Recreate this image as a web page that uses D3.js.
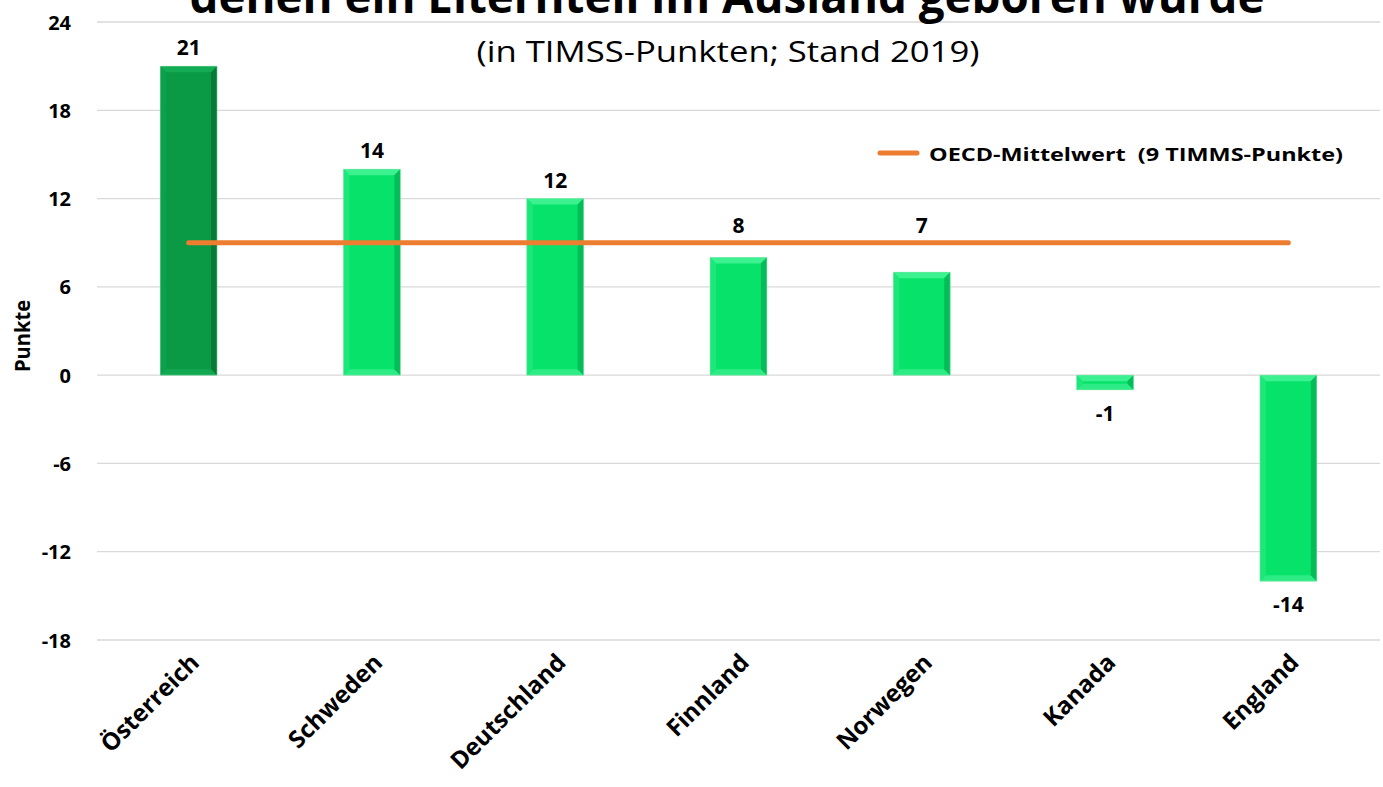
<!DOCTYPE html>
<html>
<head>
<meta charset="utf-8">
<script src="https://cdn.jsdelivr.net/npm/d3@7"></script>
<style>
  body { margin:0; background:#fff; }
  text { font-family: "Open Sans", sans-serif; }
</style>
</head>
<body>
<div class="canvas"></div>
<script>
// data
const countries = ['Österreich', 'Schweden', 'Deutschland', 'Finnland', 'Norwegen', 'Kanada', 'England'];
const points = [21, 14, 12, 8, 7, -1, -14];
const oecdMean = 9;
const yTicks = [-18, -12, -6, 0, 6, 12, 18, 24];

const dims = { width:1383, height:787 };
const plot = { left:97, right:1380, top:22, bottom:640 };

const svg = d3.select('.canvas').append('svg')
  .attr('width', dims.width)
  .attr('height', dims.height);

const x = d3.scaleBand()
  .domain(countries)
  .range([plot.left, plot.right])
  .paddingInner(0.69)
  .paddingOuter(0.345);

const y = d3.scaleLinear()
  .domain([-18, 24])
  .range([plot.bottom, plot.top]);

// gridlines
svg.append('g').selectAll('line')
  .data(yTicks).enter().append('line')
  .attr('x1', plot.left).attr('x2', plot.right)
  .attr('y1', d => y(d)).attr('y2', d => y(d))
  .attr('stroke', '#d9d9d9').attr('stroke-width', 1.3);

// y axis labels (plain hyphen for negatives, like the original)
const yAxis = d3.axisLeft(y).tickValues(yTicks).tickSize(0).tickPadding(0)
  .tickFormat(d => String(d));
const yg = svg.append('g').attr('transform', 'translate(71,0)').call(yAxis);
yg.select('.domain').remove();
yg.selectAll('text')
  .attr('font-family', '"Open Sans", sans-serif')
  .attr('font-size', 20).attr('font-weight', 700).attr('fill', '#000')
  .attr('dy', '0.35em');

svg.append('text')
  .attr('transform', 'translate(30,336) rotate(-90)')
  .attr('text-anchor', 'middle')
  .attr('font-size', 22).attr('font-weight', 700)
  .attr('textLength', 72).attr('lengthAdjust', 'spacingAndGlyphs')
  .text('Punkte');

// title (cut at top, as in the original)
svg.append('text')
  .attr('x', 727).attr('y', 13)
  .attr('text-anchor', 'middle')
  .attr('font-size', 46).attr('font-weight', 700)
  .attr('textLength', 1075).attr('lengthAdjust', 'spacingAndGlyphs')
  .text('denen ein Elternteil im Ausland geboren wurde');

svg.append('text')
  .attr('x', 728).attr('y', 62)
  .attr('text-anchor', 'middle')
  .attr('font-size', 29)
  .attr('textLength', 503).attr('lengthAdjust', 'spacingAndGlyphs')
  .text('(in TIMSS-Punkten; Stand 2019)');

// bars with bevel
const bw = x.bandwidth();
const bev = 6;
const barColors = (i) => i === 0
  ? { main:'#0a9a46', top:'#14ab55', left:'#0da04b', right:'#067a36', bottom:'#12a852' }
  : { main:'#07e26b', top:'#3cf18f', left:'#1ae878', right:'#04bd58', bottom:'#2eec85' };

const bars = svg.append('g').selectAll('g')
  .data(points).enter().append('g');

bars.each(function(d, i) {
  const g = d3.select(this);
  const x0 = x(countries[i]), x1 = x0 + bw;
  const y0 = Math.min(y(d), y(0)), y1 = Math.max(y(d), y(0));
  const c = barColors(i);
  const b = Math.min(bev, (y1 - y0) / 2);
  g.append('rect').attr('x', x0).attr('y', y0).attr('width', bw).attr('height', y1 - y0).attr('fill', c.main);
  const poly = (pts, fill) => g.append('polygon').attr('points', pts.map(p => p.join(',')).join(' ')).attr('fill', fill);
  poly([[x0,y0],[x1,y0],[x1-b,y0+b],[x0+b,y0+b]], c.top);
  poly([[x0,y1],[x1,y1],[x1-b,y1-b],[x0+b,y1-b]], c.bottom);
  poly([[x0,y0],[x0+b,y0+b],[x0+b,y1-b],[x0,y1]], c.left);
  poly([[x1,y0],[x1-b,y0+b],[x1-b,y1-b],[x1,y1]], c.right);
  g.append('rect').attr('x', x0).attr('y', y0).attr('width', bw).attr('height', y1 - y0)
    .attr('fill', 'none').attr('stroke', '#9be8bd').attr('stroke-width', 0.8).attr('stroke-opacity', 0.6);
});

// value labels; labels of bars below the mean line sit above the line
const labelY = d => {
  if (d < 0) return y(d) + 31;
  if (d < oecdMean) return y(oecdMean) - 10;
  return y(d) - 11;
};
svg.append('g').selectAll('text')
  .data(points).enter().append('text')
  .attr('x', (d, i) => x(countries[i]) + bw / 2)
  .attr('y', labelY)
  .attr('text-anchor', 'middle')
  .attr('font-size', 21).attr('font-weight', 700)
  .text(d => d);

// OECD mean line
svg.append('line')
  .attr('x1', x(countries[0]) + bw / 2)
  .attr('x2', x(countries[countries.length - 1]) + bw / 2)
  .attr('y1', y(oecdMean)).attr('y2', y(oecdMean))
  .attr('stroke', '#ed7d31').attr('stroke-width', 5).attr('stroke-linecap', 'round');

// legend
svg.append('line')
  .attr('x1', 880).attr('x2', 917).attr('y1', 153).attr('y2', 153)
  .attr('stroke', '#ed7d31').attr('stroke-width', 5).attr('stroke-linecap', 'round');
svg.append('text')
  .attr('x', 929).attr('y', 161)
  .attr('font-size', 18).attr('font-weight', 700)
  .attr('textLength', 414).attr('lengthAdjust', 'spacingAndGlyphs')
  .attr('xml:space', 'preserve')
  .text('OECD-Mittelwert  (9 TIMMS-Punkte)');

// x labels
svg.append('g').selectAll('text')
  .data(countries).enter().append('text')
  .attr('transform', d => `translate(${x(d) + bw / 2 + 12},${664}) rotate(-45)`)
  .attr('text-anchor', 'end')
  .attr('font-size', 24).attr('font-weight', 700)
  .text(d => d);
</script>
</body>
</html>
